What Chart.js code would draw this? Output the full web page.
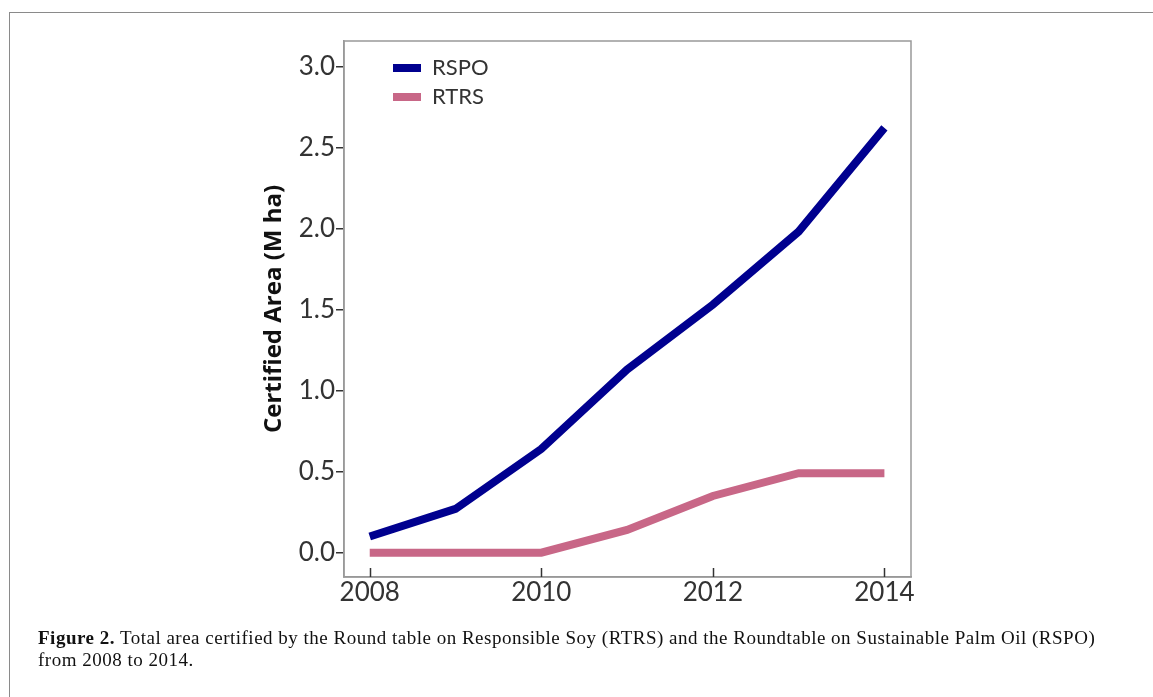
<!DOCTYPE html>
<html>
<head>
<meta charset="utf-8">
<script src="https://cdn.jsdelivr.net/npm/chart.js"></script>
<style>
  html, body { margin: 0; padding: 0; background: #fff; }
  #wrap { position: relative; width: 1153px; height: 697px; overflow: hidden; }
  #frame { position: absolute; left: 9px; top: 12px; width: 1200px; height: 800px;
           border-left: 1.5px solid #8a8a8a; border-top: 1.5px solid #8a8a8a; }
  canvas { position: absolute; left: 0; top: 0; }
  #caption { position: absolute; left: 38px; top: 627px; width: 1110px; white-space: nowrap;
             font-family: "Liberation Serif", serif; font-size: 19px; line-height: 22px;
             letter-spacing: 0.5px; color: #111; }
  #caption b { font-weight: bold; }
</style>
</head>
<body>
<div id="wrap">
  <div id="frame"></div>
  <canvas id="myChart" width="1153" height="697"></canvas>
  <div id="caption"><b>Figure 2.</b> Total area certified by the Round table on Responsible Soy (RTRS) and the Roundtable on Sustainable Palm Oil (RSPO)<br>from 2008 to 2014.</div>
</div>
<script>
// values (million ha)
const years = [2008, 2009, 2010, 2011, 2012, 2013, 2014];
const rspo = [0.10, 0.27, 0.64, 1.13, 1.53, 1.98, 2.62];
const rtrs = [0.00, 0.00, 0.00, 0.14, 0.35, 0.49, 0.49];
const xTicks = [2008, 2010, 2012, 2014];
const yTicks = [0, 0.5, 1.0, 1.5, 2.0, 2.5, 3.0];

const tickFont = { family: 'Lato, "Open Sans", sans-serif', size: 26 };

// box round the plot, inward ticks on the x axis, legend moved inside the plot
const framePlugin = {
  id: 'frame',
  afterDatasetsDraw(chart) {
    const { ctx, chartArea: a, scales: { x } } = chart;
    ctx.save();
    ctx.strokeStyle = '#999';
    ctx.lineWidth = 1.5;
    ctx.strokeRect(a.left, a.top, a.right - a.left, a.bottom - a.top);
    ctx.strokeStyle = '#333';
    ctx.lineWidth = 1.5;
    xTicks.forEach(t => {
      const px = Math.round(x.getPixelForValue(t)) + 0.5;
      ctx.beginPath();
      ctx.moveTo(px, a.bottom);
      ctx.lineTo(px, a.bottom - 9);
      ctx.stroke();
    });
    ctx.restore();
  },
  afterLayout(chart) {
    const lg = chart.legend;
    const a = chart.chartArea;
    if (lg) {
      const w = lg.width, h = lg.height;
      lg.left = a.left + 42; lg.right = lg.left + w;
      lg.top = a.top + 9; lg.bottom = lg.top + h;
    }
  }
};

const ctx = document.getElementById('myChart').getContext('2d');
const myChart = new Chart(ctx, {
  type: 'line',
  data: {
    datasets: [
      {
        label: 'RSPO',
        data: years.map((y, i) => ({ x: y, y: rspo[i] })),
        borderColor: '#00008f',
        backgroundColor: '#00008f',
        borderWidth: 8,
        pointRadius: 0,
        tension: 0
      },
      {
        label: 'RTRS',
        data: years.map((y, i) => ({ x: y, y: rtrs[i] })),
        borderColor: '#c86787',
        backgroundColor: '#c86787',
        borderWidth: 8,
        pointRadius: 0,
        tension: 0
      }
    ]
  },
  options: {
    responsive: false,
    animation: false,
    devicePixelRatio: 1,
    layout: { padding: { left: 200, top: 41, right: 242, bottom: 70 } },
    plugins: {
      tooltip: { enabled: false },
      legend: {
        position: 'chartArea',
        align: 'start',
        labels: {
          boxWidth: 28,
          boxHeight: 8,
          padding: 7,
          color: '#333',
          font: { family: 'Lato, "Open Sans", sans-serif', size: 22 },
          generateLabels(chart) {
            return chart.data.datasets.map((ds, i) => ({
              text: ds.label,
              fillStyle: ds.borderColor,
              strokeStyle: ds.borderColor,
              lineWidth: 0,
              hidden: false,
              datasetIndex: i,
              fontColor: '#333'
            }));
          }
        }
      }
    },
    scales: {
      x: {
        type: 'linear',
        min: 2007.7,
        max: 2014.31,
        afterBuildTicks: s => { s.ticks = xTicks.map(v => ({ value: v })); },
        afterFit: s => { s.height = 50; },
        grid: { drawOnChartArea: false, drawTicks: false },
        border: { color: '#999', width: 1.5 },
        ticks: { color: '#333', font: tickFont, padding: 0, maxRotation: 0, callback: v => String(v) }
      },
      y: {
        min: -0.15,
        max: 3.156,
        afterBuildTicks: s => { s.ticks = yTicks.map(v => ({ value: v })); },
        afterFit: s => { s.width = 144; },
        grid: { drawOnChartArea: false, drawTicks: true, tickLength: 8, color: '#333', lineWidth: 1.5 },
        border: { color: '#999', width: 1.5 },
        ticks: { color: '#333', font: tickFont, padding: 1, callback: v => v.toFixed(1) },
        title: {
          display: true,
          text: 'Certified Area (M ha)',
          color: '#111',
          font: { family: '"Open Sans", Lato, sans-serif', size: 24, weight: 'bold' },
          padding: { top: 60, bottom: 0 }
        }
      }
    }
  },
  plugins: [framePlugin]
});
</script>
</body>
</html>
